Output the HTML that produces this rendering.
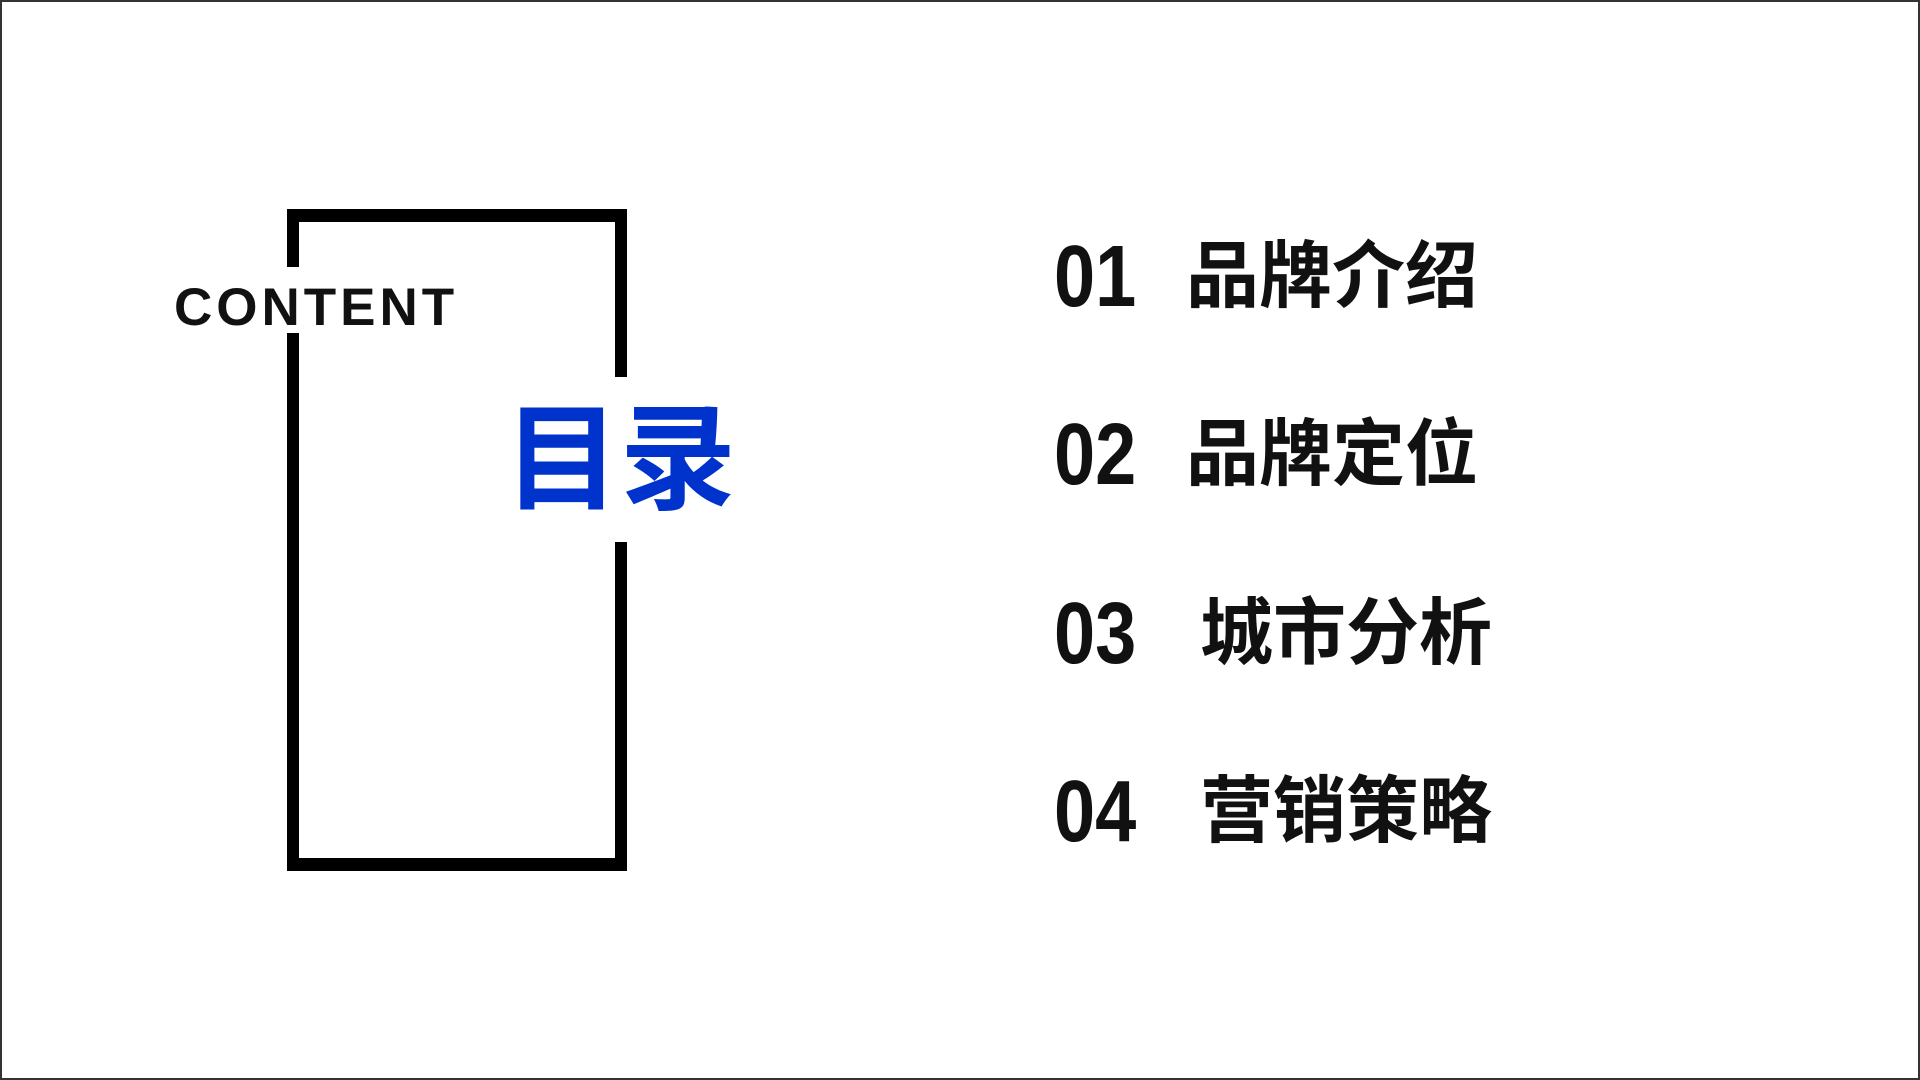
<!DOCTYPE html>
<html><head><meta charset="utf-8"><style>
html,body{margin:0;padding:0}
body{width:1920px;height:1080px;position:relative;background:#fff;overflow:hidden;font-family:"Liberation Sans","Noto Sans CJK SC",sans-serif}
.frame{position:absolute;left:0;top:0;width:1916px;height:1076px;border:2px solid #333}
.b{position:absolute;background:#000}
.t{position:absolute;white-space:nowrap;font-weight:bold;color:#111}
.num{position:absolute;font-weight:bold;font-size:87px;line-height:1;transform:scaleX(0.85);transform-origin:left;color:#111}
.cn{position:absolute;font-weight:bold;font-size:73px;line-height:1;font-family:"Noto Sans CJK SC",sans-serif;color:#111}
</style></head><body>
<div class="frame"></div>
<div class="b" style="left:287px;top:209px;width:340px;height:13px;border-radius:3px"></div>
<div class="b" style="left:287px;top:858px;width:340px;height:13px;border-radius:3px"></div>
<div class="b" style="left:287px;top:209px;width:12px;height:58px"></div>
<div class="b" style="left:287px;top:333px;width:12px;height:538px"></div>
<div class="b" style="left:615px;top:209px;width:12px;height:168px"></div>
<div class="b" style="left:615px;top:542px;width:12px;height:329px"></div>
<div class="t" style="left:174px;top:281px;font-size:53px;line-height:1;letter-spacing:4px">CONTENT</div>
<div class="t" style="left:504px;top:392px;font-size:116px;line-height:1;color:#0033cc;font-family:'Noto Sans CJK SC',sans-serif">目录</div>

<div class="num" style="left:1054px;top:233px">01</div>
<div class="cn" style="left:1186px;top:234px">品牌介绍</div>
<div class="num" style="left:1054px;top:411px">02</div>
<div class="cn" style="left:1186px;top:412px">品牌定位</div>
<div class="num" style="left:1054px;top:590px">03</div>
<div class="cn" style="left:1200px;top:591px">城市分析</div>
<div class="num" style="left:1054px;top:768px">04</div>
<div class="cn" style="left:1200px;top:769px">营销策略</div>
</body></html>
